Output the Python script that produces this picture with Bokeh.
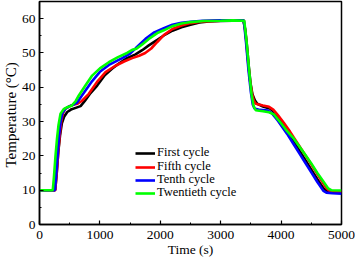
import math
from bokeh.plotting import figure
from bokeh.models import Range1d, Title, Legend, LegendItem, FixedTicker
from bokeh.embed import file_html
from bokeh.resources import INLINE

series_names = ["First cycle", "Fifth cycle", "Tenth cycle", "Twentieth cycle"]
series_colors = ["#000000", "#ff0000", "#0000ff", "#00ff00"]

first_t = [0, 260, 285, 310, 340, 370, 410, 460, 520, 600, 680, 750, 830, 955, 1080, 1200, 1320,
           1450, 1590, 1700, 1810, 1950, 2058, 2200, 2350, 2500, 2650, 2800, 3000, 3200, 3375,
           3405, 3435, 3465, 3495, 3525, 3565, 3605, 3700, 3825, 3900, 4000, 4100, 4200, 4300,
           4400, 4500, 4600, 4700, 4760, 4850, 5000]
first_T = [10, 10, 15, 21, 26, 29.5, 31.5, 32.8, 33.5, 34, 34.5, 36, 38, 40.5, 43.5, 45.4, 47,
           48.5, 49.6, 50.8, 52.2, 53.8, 55.1, 56.5, 57.5, 58.2, 58.9, 59.2, 59.3, 59.4, 59.4,
           57, 52, 46, 41, 38, 36.2, 35.2, 34.4, 33.7, 32.6, 30, 27.2, 24.4, 21.6,
           18.8, 16, 13.2, 10.6, 9.7, 9.5, 9.4]

fifth_t = [0, 260, 285, 310, 335, 360, 390, 430, 500, 570, 630, 700, 817, 950, 1093, 1250, 1400,
           1535, 1650, 1750, 1850, 1950, 2058, 2200, 2350, 2500, 2700, 3000, 3200, 3383,
           3415, 3450, 3485, 3520, 3550, 3580, 3700, 3800, 3870, 3950, 4050, 4150, 4250, 4350,
           4450, 4550, 4650, 4750, 4800, 4900, 5000]
fifth_T = [10, 10, 15, 21, 26, 30, 32.5, 33.8, 34.5, 35, 35.2, 36, 38.1, 41.5, 44.4, 46.2, 47.5,
           48.5, 49.2, 50, 51.3, 53.2, 55.2, 57, 58, 58.7, 59.2, 59.4, 59.5, 59.5,
           55, 48, 42, 38, 36, 35.2, 34.7, 34.3, 33.5, 31.8, 29.5, 27, 24.3, 21.6,
           18.9, 16.1, 13.3, 10.6, 9.8, 9.6, 9.5]

tenth_t = [0, 255, 275, 300, 325, 350, 380, 430, 500, 570, 620, 700, 872, 1000, 1150, 1369, 1500,
           1600, 1755, 1900, 2058, 2200, 2350, 2500, 2700, 3000, 3200, 3383,
           3420, 3460, 3500, 3530, 3560, 3650, 3780, 3850, 3950, 4100, 4200, 4300, 4400, 4500,
           4600, 4700, 4750, 4850, 5000]
tenth_T = [10, 10, 14, 20, 26, 30, 32.5, 33.8, 34.5, 35, 35.5, 37.5, 41.8, 44.5, 46.5, 48.5, 49.8,
           51.5, 54.1, 56, 57.2, 58.2, 58.8, 59.1, 59.4, 59.5, 59.5, 59.5,
           53, 45, 38.5, 35, 33.8, 33.4, 33.2, 32.4, 30.2, 26.4, 23.6, 20.8, 18, 15.2,
           12.4, 9.8, 9.3, 9.1, 9.0]

twentieth_t = [0, 220, 240, 265, 290, 315, 348, 400, 460, 530, 600, 651, 760, 872, 1000, 1148,
               1300, 1450, 1535, 1600, 1700, 1810, 1950, 2058, 2200, 2350, 2500, 2715, 3000, 3200,
               3390, 3430, 3470, 3510, 3545, 3580, 3700, 3800, 3880, 4000, 4100, 4210, 4300,
               4400, 4500, 4600, 4700, 4780, 4830, 5000]
twentieth_T = [10, 10, 14, 20, 25, 29, 32.3, 33.6, 34.2, 34.6, 36, 37.6, 40.5, 43.4, 45.5, 47.3,
               48.8, 50, 50.9, 51.2, 52.5, 54.1, 55.8, 56.6, 57.8, 58.6, 59, 59.3, 59.4, 59.5,
               59.4, 53, 45, 38, 34.5, 33.3, 33.0, 32.7, 32.1, 29.5, 27.2, 25, 22.8,
               20.3, 17.8, 15, 12.5, 10.5, 10, 9.9]

x_ticks = [0, 1000, 2000, 3000, 4000, 5000]
y_ticks = [0, 10, 20, 30, 40, 50, 60]

FONT = "Liberation Serif"

p = figure(width=355, height=264, output_backend="svg", toolbar_location=None,
           x_range=Range1d(0, 5000), y_range=Range1d(0, 65),
           min_border_left=39, min_border_right=14, min_border_top=1, min_border_bottom=40)
p.background_fill_color = "white"
p.border_fill_color = "white"
p.outline_line_color = "black"
p.outline_line_width = 1.5
p.xgrid.visible = False
p.ygrid.visible = False

p.xaxis.ticker = FixedTicker(ticks=x_ticks, minor_ticks=[500, 1500, 2500, 3500, 4500])
p.yaxis.ticker = FixedTicker(ticks=y_ticks, minor_ticks=[5, 15, 25, 35, 45, 55])
for ax in (p.xaxis, p.yaxis):
    ax.major_tick_in = 4
    ax.major_tick_out = 0
    ax.minor_tick_in = 2
    ax.minor_tick_out = 0
    ax.axis_line_width = 1.5
    ax.major_tick_line_width = 1.2
    ax.major_label_text_font = FONT
    ax.major_label_text_font_size = "13.5px"
    ax.major_label_text_color = "black"
    ax.axis_label_text_font = FONT
    ax.axis_label_text_font_style = "normal"
    ax.axis_label_text_font_size = "13.5px"
    ax.axis_label_text_color = "black"
p.xaxis.major_label_standoff = 6
p.yaxis.major_label_standoff = 4
p.xaxis.axis_label = "Time (s)"
p.xaxis.axis_label_standoff = 0

ts = [first_t, fifth_t, tenth_t, twentieth_t]
Ts = [first_T, fifth_T, tenth_T, twentieth_T]
legend_rows_y = [64, 50, 37, 24]
for name, color, t, T, ly in zip(series_names, series_colors, ts, Ts, legend_rows_y):
    r = p.line(t, T, line_color=color, line_width=2.6)
    lg = Legend(items=[LegendItem(label=name, renderers=[r])], location=(96, ly))
    lg.label_text_font = FONT
    lg.label_text_font_size = "12.5px"
    lg.label_text_color = "black"
    lg.label_height = 12
    lg.glyph_height = 12
    lg.glyph_width = 20
    lg.label_standoff = 2
    lg.spacing = 0
    lg.padding = 0
    lg.margin = 0
    lg.border_line_alpha = 0
    lg.background_fill_alpha = 0
    p.add_layout(lg)

ytitle = Title(text="Temperature (°C)", align="left", offset=57, standoff=0,
               text_font=FONT, text_font_size="15px", text_font_style="normal",
               text_color="black")
p.add_layout(ytitle, "left")

open("out.html", "w").write(file_html(p, INLINE))
